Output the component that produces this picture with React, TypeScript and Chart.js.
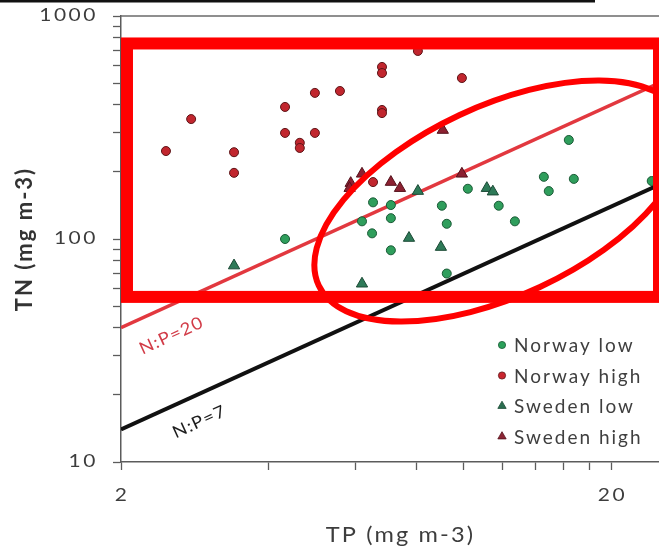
import React, { useEffect, useRef } from 'react';
import { Chart, registerables } from 'chart.js';

Chart.register(...registerables);

// Axis limits and ticks (log–log)
const TP_RANGE = [2, 25];
const TN_RANGE = [10, 1000];
const X_TICKS = [2, 4, 6, 8, 10, 12, 14, 16, 18, 20];
const X_LABELED = [2, 20];
const Y_TICKS = [10, 20, 30, 40, 50, 60, 70, 80, 90, 100, 200, 300, 400, 500, 600, 700, 800, 900, 1000];
const Y_LABELED = [10, 100, 1000];
const X_TITLE = 'TP (mg m-3)';
const Y_TITLE = 'TN (mg m-3)';

// Lake observations: total phosphorus (TP) and total nitrogen (TN), mg m-3
const NORWAY_LOW_TP = [4.32, 6.53, 7.1, 6.2, 7.1, 6.5, 7.1, 9.02, 9.23, 10.19, 11.78, 12.71, 14.56, 14.9, 16.37, 16.76, 24.16, 9.23];
const NORWAY_LOW_TN = [100, 146, 142, 120, 124, 106, 89, 141, 117, 168, 141, 120, 190, 164, 278, 186, 182, 70];

const NORWAY_HIGH_TP = [2.47, 2.78, 3.4, 3.4, 4.32, 4.32, 4.63, 4.63, 4.97, 4.97, 5.59, 6.81, 6.81, 6.81, 6.81, 8.06, 9.91, 6.53];
const NORWAY_HIGH_TN = [248, 345, 245, 198, 391, 299, 270, 256, 452, 299, 461, 591, 555, 379, 367, 697, 527, 180];

const SWEDEN_LOW_TP = [3.4, 8.06, 7.73, 8.98, 6.2, 11.14, 11.46];
const SWEDEN_LOW_TN = [76, 164, 101, 92, 63, 169, 163];

const SWEDEN_HIGH_TP = [6.2, 5.88, 5.85, 7.1, 7.41, 9.91, 9.06];
const SWEDEN_HIGH_TN = [196, 178, 169, 180, 169, 196, 308];

// Reference N:P ratio lines (TN = ratio × TP)
const NP_RATIOS = [20, 7];
const NP_LABELS = ['N:P=20', 'N:P=7'];
const NP_COLORS = ['#e2383f', '#111111'];
const NP_TEXT_COLORS = ['#d23c48', '#1c1c1c'];
const NP_LABEL_TP = [2.4, 2.75];

// Highlight annotations in data units
const BOX_TP = [2.057, 25];
const BOX_TN = [55, 753];
const ELLIPSE_CENTER = [11.84, 148];
const ELLIPSE_MAJOR_END = [27.7, 354];
const ELLIPSE_MINOR_END = [14.3, 60.9];

const FONT = 'Lato, "Open Sans", sans-serif';
const AXIS_COLOR = '#5c5c5c';
const TEXT_COLOR = '#3d3d3d';
const TICK_LEN = 8;

const pairs = (xs: number[], ys: number[]) => xs.map((x, i) => ({ x, y: ys[i] }));

const SERIES = [
  { label: 'Norway low', tp: NORWAY_LOW_TP, tn: NORWAY_LOW_TN, style: 'circle', fill: '#2f9e5c', edge: '#1a5a36', legend: '#2aa05a', radius: 4.5, order: 3 },
  { label: 'Norway high', tp: NORWAY_HIGH_TP, tn: NORWAY_HIGH_TN, style: 'circle', fill: '#c1262e', edge: '#5e1518', legend: '#c9252f', radius: 4.5, order: 4 },
  { label: 'Sweden low', tp: SWEDEN_LOW_TP, tn: SWEDEN_LOW_TN, style: 'triangle', fill: '#2e7a58', edge: '#1b4a35', legend: '#2a6e50', radius: 6.5, order: 2 },
  { label: 'Sweden high', tp: SWEDEN_HIGH_TP, tn: SWEDEN_HIGH_TN, style: 'triangle', fill: '#8c2131', edge: '#55121c', legend: '#8b2535', radius: 6.5, order: 1 },
];

// Keep the plot box exactly where the layout puts it: no label overflow padding.
const zeroPadding = (s: any) => {
  s.paddingTop = 0;
  s.paddingBottom = 0;
  s.paddingLeft = 0;
  s.paddingRight = 0;
};

// Text drawn with a horizontal stretch about its anchor point.
const wideText = (ctx: any, text: string, x: number, y: number, sx: number, align: string, rot = 0) => {
  ctx.save();
  ctx.translate(x, y);
  if (rot) ctx.rotate(rot);
  ctx.scale(sx, 1);
  ctx.textAlign = align;
  ctx.fillText(text, 0, 0);
  ctx.restore();
};

const overlayPlugin = {
  id: 'overlay',
  beforeDraw(chart: any) {
    const ctx = chart.ctx;
    ctx.save();
    ctx.fillStyle = '#ffffff';
    ctx.fillRect(0, 0, chart.width, chart.height);
    ctx.restore();
    ctx.letterSpacing = '2px';
  },
  afterDatasetsDraw(chart: any) {
    const ctx = chart.ctx;
    const xs = chart.scales.x;
    const ys = chart.scales.y;
    const px = (tp: number, tn: number) => ({ x: xs.getPixelForValue(tp), y: ys.getPixelForValue(tn) });

    ctx.save();
    // rectangle
    const a = px(BOX_TP[0], BOX_TN[1]);
    const b = px(BOX_TP[1], BOX_TN[0]);
    ctx.strokeStyle = '#ff0000';
    ctx.lineWidth = 12;
    ctx.strokeRect(a.x, a.y, b.x - a.x, b.y - a.y);

    // ellipse
    const c = px(ELLIPSE_CENTER[0], ELLIPSE_CENTER[1]);
    const m = px(ELLIPSE_MAJOR_END[0], ELLIPSE_MAJOR_END[1]);
    const n = px(ELLIPSE_MINOR_END[0], ELLIPSE_MINOR_END[1]);
    const ra = Math.hypot(m.x - c.x, m.y - c.y);
    const rb = Math.hypot(n.x - c.x, n.y - c.y);
    const rot = Math.atan2(m.y - c.y, m.x - c.x);
    ctx.lineWidth = 6;
    ctx.beginPath();
    ctx.ellipse(c.x, c.y, ra, rb, rot, 0, Math.PI * 2);
    ctx.stroke();
    ctx.restore();
  },
  afterDraw(chart: any) {
    const ctx = chart.ctx;
    const area = chart.chartArea;
    const xs = chart.scales.x;
    const ys = chart.scales.y;

    ctx.save();
    ctx.letterSpacing = '2px';
    // frame: top border and header rule
    ctx.strokeStyle = '#6a6a6a';
    ctx.lineWidth = 1.5;
    ctx.beginPath();
    ctx.moveTo(area.left, area.top);
    ctx.lineTo(area.right, area.top);
    ctx.stroke();
    ctx.fillStyle = '#111111';
    ctx.fillRect(0, 0, area.right - 64, 2.5);

    // tick labels
    ctx.font = `16.5px ${FONT}`;
    ctx.fillStyle = TEXT_COLOR;
    ctx.textBaseline = 'middle';
    Y_LABELED.forEach((v) => {
      wideText(ctx, String(v), area.left - TICK_LEN - 15, ys.getPixelForValue(v), 1.27, 'right');
    });
    X_LABELED.forEach((v) => {
      wideText(ctx, String(v), xs.getPixelForValue(v) + 1, area.bottom + TICK_LEN + 26, 1.27, 'center');
    });

    // x-axis title
    ctx.font = `22px ${FONT}`;
    ctx.fillStyle = TEXT_COLOR;
    wideText(ctx, X_TITLE, (area.left + area.right) / 2 + 10.5, area.bottom + 73, 1.07, 'center');

    // N:P line labels, rotated along each line
    NP_RATIOS.forEach((ratio, i) => {
      const x0 = xs.getPixelForValue(TP_RANGE[0]);
      const y0 = ys.getPixelForValue(ratio * TP_RANGE[0]);
      const x1 = xs.getPixelForValue(TP_RANGE[1]);
      const y1 = ys.getPixelForValue(ratio * TP_RANGE[1]);
      const ang = Math.atan2(y1 - y0, x1 - x0);
      const tp = NP_LABEL_TP[i];
      ctx.save();
      ctx.translate(xs.getPixelForValue(tp), ys.getPixelForValue(ratio * tp));
      ctx.rotate(ang);
      ctx.font = `17px ${FONT}`;
      ctx.letterSpacing = '1px';
      ctx.fillStyle = NP_TEXT_COLORS[i];
      ctx.textBaseline = 'middle';
      wideText(ctx, NP_LABELS[i], 0, i === 0 ? 28 : 25.5, 1.09, 'center');
      ctx.restore();
    });

    // legend in the lower-right corner of the plot
    const lx = area.right - 157;
    const ly = area.bottom - 117;
    SERIES.forEach((s, i) => {
      const y = ly + i * 30.5;
      ctx.fillStyle = s.legend;
      ctx.strokeStyle = s.edge;
      ctx.lineWidth = 0.8;
      ctx.beginPath();
      if (s.style === 'circle') {
        ctx.arc(lx, y, 3.6, 0, Math.PI * 2);
      } else {
        const r = 4.8;
        ctx.moveTo(lx, y - r);
        ctx.lineTo(lx + r * 0.866, y + r * 0.5);
        ctx.lineTo(lx - r * 0.866, y + r * 0.5);
        ctx.closePath();
      }
      ctx.fill();
      ctx.stroke();
      ctx.font = `19px ${FONT}`;
      ctx.fillStyle = '#3f3f3f';
      ctx.textAlign = 'left';
      ctx.textBaseline = 'middle';
      ctx.fillText(s.label, lx + 12, y + 1);
    });
    ctx.restore();
  },
};

export default function App() {
  const canvasRef = useRef<HTMLCanvasElement | null>(null);

  useEffect(() => {
    document.body.style.margin = '0';
    const canvas = canvasRef.current;
    if (!canvas) return;

    const datasets: any[] = SERIES.map((s) => ({
      label: s.label,
      data: pairs(s.tp, s.tn),
      pointStyle: s.style,
      pointRadius: s.radius,
      pointBackgroundColor: s.fill,
      pointBorderColor: s.edge,
      pointBorderWidth: 1,
      showLine: false,
      order: s.order,
    }));

    NP_RATIOS.forEach((ratio, i) => {
      datasets.push({
        label: NP_LABELS[i],
        data: TP_RANGE.map((tp) => ({ x: tp, y: ratio * tp })),
        showLine: true,
        borderColor: NP_COLORS[i],
        borderWidth: i === 0 ? 3.5 : 4,
        pointRadius: 0,
        fill: false,
        order: 10 + i,
      });
    });

    const gridOpts = { drawOnChartArea: false, drawTicks: true, tickLength: TICK_LEN, tickColor: AXIS_COLOR, tickWidth: 1.3 };

    const chart = new Chart(canvas, {
      type: 'scatter',
      data: { datasets },
      options: {
        animation: false,
        responsive: false,
        devicePixelRatio: 1,
        layout: { autoPadding: false, padding: { top: 16, right: 0, bottom: 0, left: 0 } },
        plugins: { legend: { display: false }, tooltip: { enabled: false } },
        scales: {
          x: {
            type: 'logarithmic',
            position: 'bottom',
            min: TP_RANGE[0],
            max: TP_RANGE[1],
            afterBuildTicks: (s: any) => {
              s.ticks = X_TICKS.map((v) => ({ value: v }));
            },
            afterFit: (s: any) => {
              s.height = 89;
              zeroPadding(s);
            },
            grid: gridOpts,
            border: { color: AXIS_COLOR, width: 1.5 },
            ticks: { display: false, autoSkip: false },
            title: { display: false },
          },
          y: {
            type: 'logarithmic',
            position: 'left',
            min: TN_RANGE[0],
            max: TN_RANGE[1],
            afterBuildTicks: (s: any) => {
              s.ticks = Y_TICKS.map((v) => ({ value: v }));
            },
            afterFit: (s: any) => {
              s.width = 121;
              zeroPadding(s);
            },
            grid: gridOpts,
            border: { color: AXIS_COLOR, width: 1.5 },
            ticks: { display: false, autoSkip: false },
            title: {
              display: true,
              text: Y_TITLE,
              color: '#333333',
              font: { family: FONT, size: 22, weight: 'bold' },
              padding: { top: 12, bottom: 0 },
            },
          },
        },
      } as any,
      plugins: [overlayPlugin],
    });

    return () => chart.destroy();
  }, []);

  return (
    <div style={{ position: 'fixed', left: 0, top: 0, width: 659, height: 551, background: '#fff' }}>
      <canvas ref={canvasRef} width={659} height={551} style={{ width: 659, height: 551, display: 'block' }} />
    </div>
  );
}
